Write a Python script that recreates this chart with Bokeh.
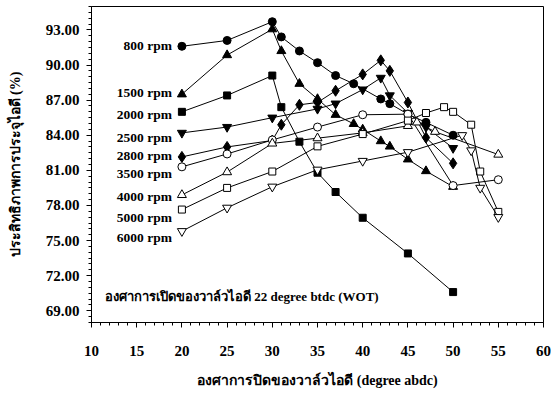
from bokeh.plotting import figure
from bokeh.models import Range1d, SingleIntervalTicker, Label, ColumnDataSource, CustomJSTickFormatter
from bokeh.core.properties import value
from bokeh.embed import file_html
from bokeh.resources import INLINE

# ---- data ----
rpm_labels = ["800 rpm", "1500 rpm", "2000 rpm", "2500 rpm", "2800 rpm",
              "3500 rpm", "4000 rpm", "5000 rpm", "6000 rpm"]

x_800 = [20, 25, 30, 31, 33, 35, 37, 39, 42, 43, 45, 47, 50]
y_800 = [91.6, 92.1, 93.7, 92.4, 91.2, 90.2, 89.1, 88.4, 87.1, 86.7, 85.8, 85.1, 84.0]

x_1500 = [20, 25, 30, 31, 33, 35, 37, 39, 40, 42, 43, 45, 47, 50]
y_1500 = [87.5, 90.85, 93.06, 91.2, 88.4, 87.1, 85.75, 84.97, 84.5, 83.5, 83.04, 81.94, 80.94, 79.6]

x_2000 = [20, 25, 30, 31, 33, 35, 37, 40, 45, 50]
y_2000 = [86.0, 87.4, 89.1, 86.4, 83.45, 80.8, 79.15, 76.95, 73.9, 70.6]

x_2500 = [20, 25, 30, 35, 37, 40, 42, 43, 45, 47, 50]
y_2500 = [84.2, 84.7, 85.5, 86.25, 86.7, 87.9, 88.9, 87.4, 85.9, 84.7, 82.9]

x_2800 = [20, 25, 30, 31, 33, 35, 37, 40, 42, 43, 45, 47, 50]
y_2800 = [82.15, 83.0, 83.55, 84.9, 86.6, 86.8, 87.8, 89.2, 90.4, 89.5, 86.8, 83.8, 81.6]

x_3500 = [20, 25, 30, 35, 40, 45, 50, 55]
y_3500 = [81.3, 82.4, 83.6, 84.7, 85.75, 85.8, 79.7, 80.2]

x_4000 = [20, 25, 30, 35, 40, 45, 46, 48, 55]
y_4000 = [78.9, 80.85, 83.3, 83.75, 84.2, 84.8, 85.1, 84.3, 82.35]

x_5000 = [20, 25, 30, 35, 40, 45, 47, 49, 50, 52, 53, 55]
y_5000 = [77.65, 79.5, 80.9, 83.05, 84.1, 85.25, 85.9, 86.4, 86.0, 84.9, 80.9, 77.45]

x_6000 = [20, 25, 30, 35, 40, 45, 51, 52, 53, 55]
y_6000 = [75.8, 77.8, 79.6, 81.05, 81.8, 82.55, 84.0, 82.7, 79.5, 77.0]

y_ticks = [69, 72, 75, 78, 81, 84, 87, 90, 93]
x_ticks = [10, 15, 20, 25, 30, 35, 40, 45, 50, 55, 60]

xs = [x_800, x_1500, x_2000, x_2500, x_2800, x_3500, x_4000, x_5000, x_6000]
ys = [y_800, y_1500, y_2000, y_2500, y_2800, y_3500, y_4000, y_5000, y_6000]

# ---- styling (layout only) ----
markers = ["circle", "triangle", "square", "inverted_triangle", "diamond",
           "circle", "triangle", "square", "inverted_triangle"]
filled = [True] * 5 + [False] * 4
msize = {"circle": 8, "triangle": 9, "square": 7, "inverted_triangle": 9, "diamond": 11}
label_dy = [-1, -2, 3, 5, -1, 7, 2, 8, 6]

SERIF = "Liberation Serif"

p = figure(width=551, height=397, output_backend="svg", toolbar_location=None,
           x_range=Range1d(10, 60), y_range=Range1d(68.0, 95.0),
           min_border_left=91, min_border_right=8, min_border_top=6, min_border_bottom=75)
p.outline_line_color = "black"
p.outline_line_width = 1
p.xgrid.visible = False
p.ygrid.visible = False
p.background_fill_color = "white"
p.border_fill_color = "white"

for i in range(len(xs)):
    src = ColumnDataSource(dict(x=xs[i], y=ys[i]))
    p.line("x", "y", source=src, line_color="black", line_width=1)
    p.scatter("x", "y", source=src, marker=markers[i], size=msize[markers[i]],
              line_color="black", line_width=1,
              fill_color="black" if filled[i] else "white")
    p.text(x=[xs[i][0]], y=[ys[i][0]], text=[rpm_labels[i]], x_offset=-10, y_offset=label_dy[i],
           text_align="right", text_baseline="middle", text_font=value(SERIF),
           text_font_style="bold", text_font_size="13.5px", text_color="black")

p.add_layout(Label(x=11.5, y=70.2, text="องศาการเปิดของวาล์วไอดี 22 degree btdc (WOT)",
                   text_font=SERIF, text_font_style="bold", text_font_size="13px",
                   text_baseline="middle", text_color="black"))

p.xaxis.ticker = SingleIntervalTicker(interval=5, num_minor_ticks=5)
p.yaxis.ticker = SingleIntervalTicker(interval=3, num_minor_ticks=6)
p.yaxis.formatter = CustomJSTickFormatter(code="return tick.toFixed(2);")

for ax in (p.xaxis[0], p.yaxis[0]):
    ax.axis_line_color = "black"
    ax.major_tick_line_color = "black"
    ax.minor_tick_line_color = "black"
    ax.major_tick_out = 5
    ax.major_tick_in = 0
    ax.minor_tick_out = 3
    ax.minor_tick_in = 0
    ax.major_label_text_font = SERIF
    ax.major_label_text_font_style = "bold"
    ax.major_label_text_font_size = "15px"
    ax.major_label_text_color = "black"
    ax.axis_label_text_font = SERIF
    ax.axis_label_text_font_style = "bold"
    ax.axis_label_text_font_size = "14px"
    ax.axis_label_text_color = "black"

p.xaxis.major_label_standoff = 18
p.yaxis.major_label_standoff = 7
p.xaxis.axis_label = "องศาการปิดของวาล์วไอดี (degree abdc)"
p.yaxis.axis_label = "ประสิทธิภาพการประจุไอดี (%)"
p.xaxis.axis_label_standoff = 14
p.yaxis.axis_label_standoff = 20

open("out.html", "w").write(file_html(p, INLINE))
